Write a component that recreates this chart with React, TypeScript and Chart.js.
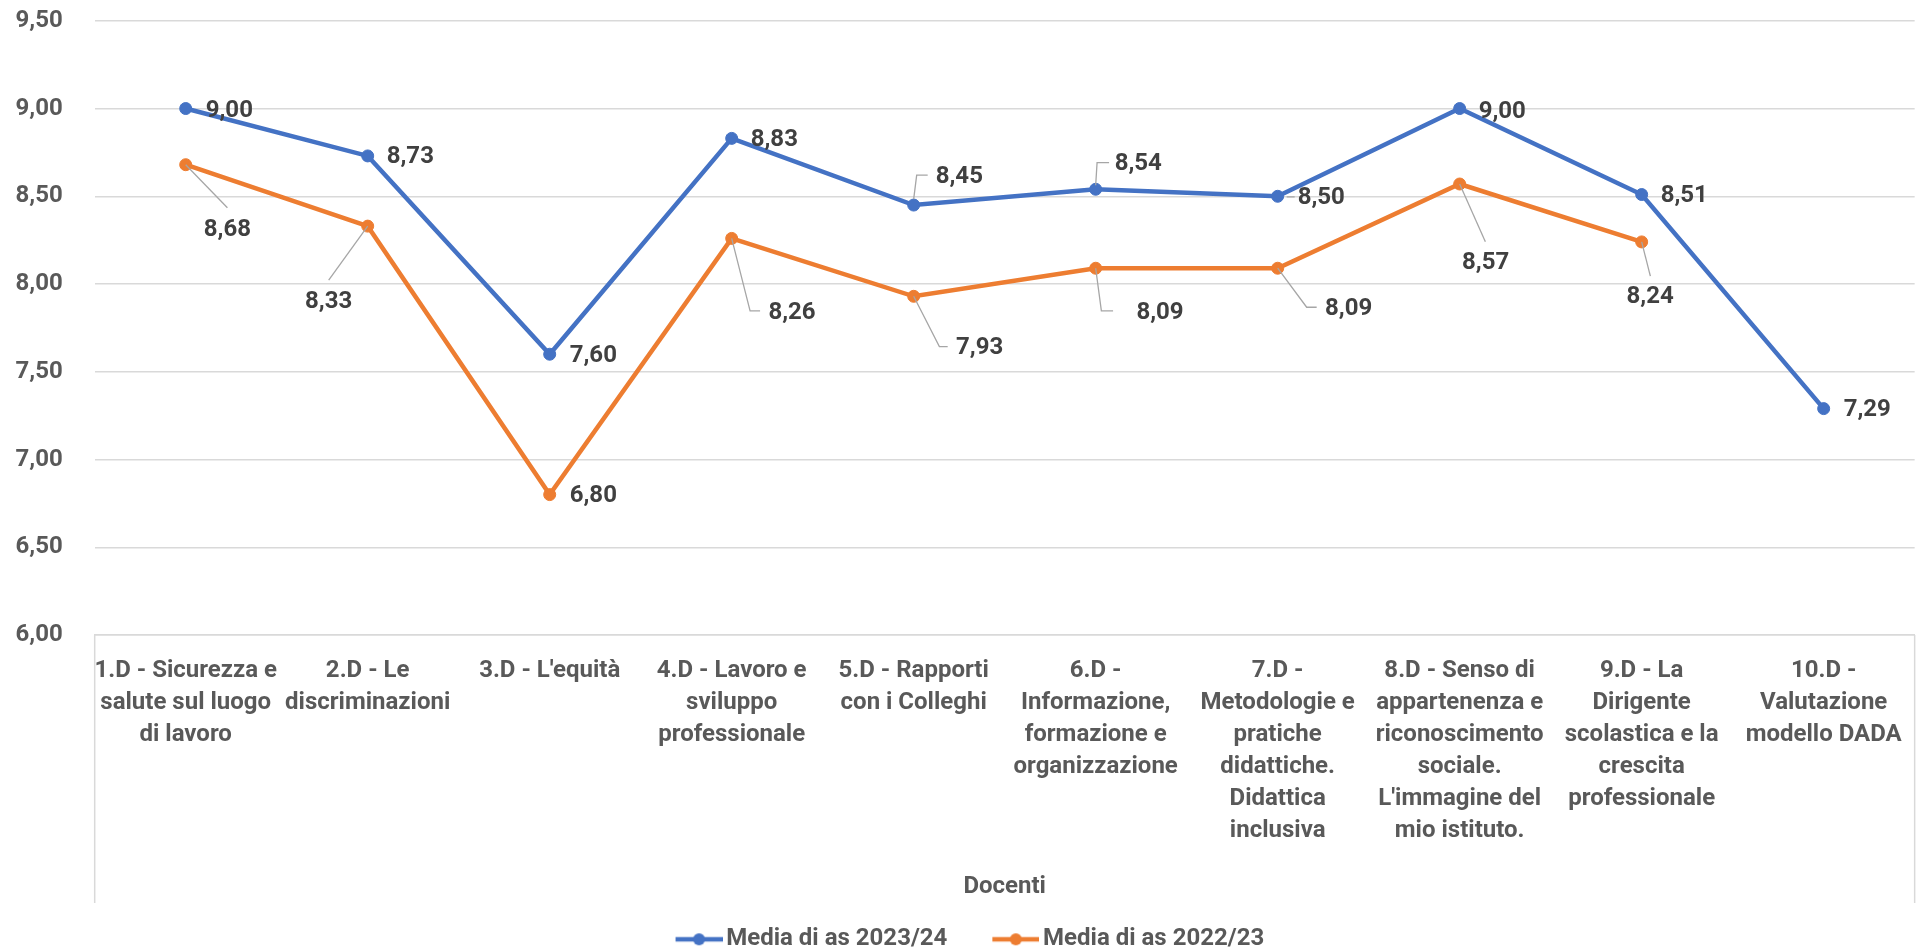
import React, { useEffect, useRef } from "react";
import { Chart, registerables } from "chart.js";

Chart.register(...registerables);

// ---------------- data ----------------
const categories: string[][] = [
  ["1.D - Sicurezza e", "salute sul luogo", "di lavoro"],
  ["2.D - Le", "discriminazioni"],
  ["3.D - L'equità"],
  ["4.D - Lavoro e", "sviluppo", "professionale"],
  ["5.D - Rapporti", "con i Colleghi"],
  ["6.D -", "Informazione,", "formazione e", "organizzazione"],
  ["7.D -", "Metodologie e", "pratiche", "didattiche.", "Didattica", "inclusiva"],
  ["8.D - Senso di", "appartenenza e", "riconoscimento", "sociale.", "L'immagine del", "mio istituto."],
  ["9.D - La", "Dirigente", "scolastica e la", "crescita", "professionale"],
  ["10.D -", "Valutazione", "modello DADA"],
];

const media2324: (number | null)[] = [9.0, 8.73, 7.6, 8.83, 8.45, 8.54, 8.5, 9.0, 8.51, 7.29];
const media2223: (number | null)[] = [8.68, 8.33, 6.8, 8.26, 7.93, 8.09, 8.09, 8.57, 8.24, null];

const seriesNames = ["Media di as 2023/24", "Media di as 2022/23"];
const axisTitle = "Docenti";
const yMin = 6;
const yMax = 9.5;
const yStep = 0.5;

// ---------------- style ----------------
const FONT = "Roboto, 'Noto Sans', sans-serif";
const FS = 24;
const BLUE = "#4472C4";
const ORANGE = "#ED7D31";
const GRID = "#D9D9D9";
const TXT = "#595959";
const LBL = "#404040";
const LEADER = "#A6A6A6";

type Place = { align: CanvasTextAlign; dx: number; dy: number; leader?: number[][] } | null;

const bluePlaces: Place[] = [
  { align: "left", dx: 20, dy: 2 },
  { align: "left", dx: 19, dy: 1 },
  { align: "left", dx: 20, dy: 2 },
  { align: "left", dx: 19, dy: 2 },
  { align: "left", dx: 22, dy: -28, leader: [[0, -6], [3, -30], [14, -30]] },
  { align: "left", dx: 19, dy: -25, leader: [[0, -4], [1.4, -26.7], [13.4, -26.7]] },
  { align: "left", dx: 20, dy: 2, leader: [[9, 0.6], [17, 0.6]] },
  { align: "left", dx: 19, dy: 3 },
  { align: "left", dx: 19, dy: 1.5 },
  { align: "left", dx: 20, dy: 1 },
];

const orangePlaces: Place[] = [
  { align: "center", dx: 41.7, dy: 65.5, leader: [[0, 0], [41.7, 43]] },
  { align: "center", dx: -39, dy: 75.7, leader: [[0, 0], [-39, 54]] },
  { align: "left", dx: 20, dy: 1.5 },
  { align: "left", dx: 36.7, dy: 74.4, leader: [[0, 0], [18.4, 72.4], [28.4, 72.4]] },
  { align: "left", dx: 42.3, dy: 51.6, leader: [[0, 0], [25.7, 50.3], [34, 50.3]] },
  { align: "left", dx: 40.7, dy: 44.3, leader: [[0, 0], [5.7, 42.7], [17.4, 42.7]] },
  { align: "left", dx: 47.3, dy: 40.6, leader: [[0, 0], [29, 39], [39, 39]] },
  { align: "center", dx: 26, dy: 78.7, leader: [[0, 0], [25.7, 57.7]] },
  { align: "center", dx: 8.5, dy: 55, leader: [[0, 0], [8.7, 34.3]] },
  null,
];

const PLACES = [bluePlaces, orangePlaces];

const fmt = (v: number) => v.toFixed(2).replace(".", ",");

const pointLabelPlugin = {
  id: "pointLabels",
  afterDatasetsDraw(chart: any) {
    const ctx = chart.ctx as CanvasRenderingContext2D;
    chart.data.datasets.forEach((ds: any, di: number) => {
      const meta = chart.getDatasetMeta(di);
      const places = PLACES[di];
      meta.data.forEach((pt: any, i: number) => {
        const v = ds.data[i];
        const p = places[i];
        if (v == null || !p) return;
        const x = pt.x;
        const y = pt.y;
        ctx.save();
        if (p.leader) {
          ctx.strokeStyle = LEADER;
          ctx.lineWidth = 1.3;
          ctx.beginPath();
          p.leader.forEach((q, k) => {
            if (k === 0) ctx.moveTo(x + q[0], y + q[1]);
            else ctx.lineTo(x + q[0], y + q[1]);
          });
          ctx.stroke();
        }
        ctx.fillStyle = LBL;
        ctx.font = `bold ${FS}px ${FONT}`;
        ctx.textAlign = p.align;
        ctx.textBaseline = "middle";
        ctx.fillText(fmt(v), x + p.dx, y + p.dy);
        ctx.restore();
      });
    });
  },
};

const axisFramePlugin = {
  id: "axisFrame",
  afterDraw(chart: any) {
    const xs = chart.scales.x;
    const ctx = chart.ctx as CanvasRenderingContext2D;
    ctx.save();
    ctx.strokeStyle = GRID;
    ctx.lineWidth = 1.5;
    ctx.beginPath();
    ctx.moveTo(xs.left, xs.top);
    ctx.lineTo(xs.left, xs.bottom);
    ctx.moveTo(xs.right, xs.top);
    ctx.lineTo(xs.right, xs.bottom);
    ctx.stroke();
    ctx.restore();
  },
};

const LEG_PAD = 24.3;
const LEG_BOX = 59.4;
const ICON_W = 76;
function makeIcon(color: string): HTMLCanvasElement {
  const c = document.createElement("canvas");
  c.width = ICON_W;
  c.height = 14;
  const g = c.getContext("2d")!;
  g.strokeStyle = color;
  g.lineWidth = 4.5;
  g.beginPath();
  g.moveTo(ICON_W - 47, 7);
  g.lineTo(ICON_W, 7);
  g.stroke();
  g.fillStyle = color;
  g.beginPath();
  g.arc(ICON_W - 23.5, 7, 6, 0, Math.PI * 2);
  g.fill();
  return c;
}

export default function App() {
  const ref = useRef<HTMLCanvasElement | null>(null);

  useEffect(() => {
    if (!ref.current) return;
    const icons = [makeIcon(BLUE), makeIcon(ORANGE)];
    const chart = new Chart(ref.current, {
      type: "line",
      data: {
        labels: categories,
        datasets: [
          {
            label: seriesNames[0],
            data: media2324,
            borderColor: BLUE,
            backgroundColor: BLUE,
            borderWidth: 4.5,
            pointRadius: 6,
            pointBackgroundColor: BLUE,
            pointBorderColor: BLUE,
            pointBorderWidth: 1,
            tension: 0,
          },
          {
            label: seriesNames[1],
            data: media2223,
            borderColor: ORANGE,
            backgroundColor: ORANGE,
            borderWidth: 4.5,
            pointRadius: 6,
            pointBackgroundColor: ORANGE,
            pointBorderColor: ORANGE,
            pointBorderWidth: 1,
            tension: 0,
          },
        ],
      },
      options: {
        responsive: false,
        animation: false,
        devicePixelRatio: 1,
        layout: { padding: { left: 0, top: 20.8, right: 3, bottom: -9.3 } },
        scales: {
          x: {
            type: "category",
            offset: true,
            grid: { display: false, drawTicks: false },
            border: { display: true, color: GRID, width: 1.5 },
            ticks: {
              autoSkip: false,
              maxRotation: 0,
              minRotation: 0,
              padding: 20,
              color: TXT,
              font: { family: FONT, size: FS, weight: "bold", lineHeight: 32 / FS },
            },
            title: {
              display: true,
              text: axisTitle,
              color: TXT,
              padding: { top: 0, bottom: 0 },
              font: { family: FONT, size: FS, weight: "bold", lineHeight: 32 / FS },
            },
            afterFit: (s: any) => {
              s.height = 268;
            },
          },
          y: {
            min: yMin,
            max: yMax,
            ticks: {
              stepSize: yStep,
              padding: 4,
              color: TXT,
              font: { family: FONT, size: FS, weight: "bold" },
              callback: (v: any) => fmt(Number(v)),
            },
            grid: {
              color: GRID,
              lineWidth: 1.5,
              drawTicks: true,
              tickLength: 28,
              tickColor: "rgba(0,0,0,0)",
            },
            border: { display: false },
            afterFit: (s: any) => {
              s.width = 94.7;
            },
          },
        },
        plugins: {
          tooltip: { enabled: false },
          legend: {
            display: true,
            position: "bottom",
            labels: {
              usePointStyle: true,
              pointStyleWidth: LEG_BOX,
              padding: LEG_PAD,
              color: TXT,
              font: { family: FONT, size: FS, weight: "bold" },
              generateLabels: (c: any) => {
                const items = (Chart.defaults.plugins.legend.labels as any).generateLabels(c);
                items.forEach((it: any, i: number) => {
                  it.pointStyle = icons[i];
                });
                return items;
              },
            },
          },
        },
      } as any,
      plugins: [pointLabelPlugin, axisFramePlugin],
    });
    return () => chart.destroy();
  }, []);

  return (
    <div style={{ position: "absolute", left: 0, top: 0, width: 1922, height: 952, background: "#fff" }}>
      <canvas ref={ref} width={1922} height={952} style={{ display: "block", width: 1922, height: 952 }} />
    </div>
  );
}
